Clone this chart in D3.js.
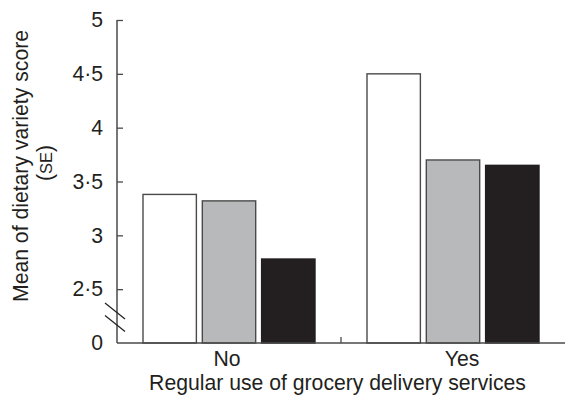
<!DOCTYPE html>
<html>
<head>
<meta charset="utf-8">
<script src="https://cdn.jsdelivr.net/npm/d3@7"></script>
<style>
  html, body { margin: 0; padding: 0; background: #fff; }
  svg { display: block; font-family: "Liberation Sans", Arial, sans-serif; }
</style>
</head>
<body>
<svg id="chart" width="565" height="402"></svg>
<script>
// Mean dietary variety score by regular use of grocery delivery services
const groups = ["No", "Yes"];
const seriesNames = ["s1", "s2", "s3"];
const valuesS1 = [3.38, 4.5];
const valuesS2 = [3.32, 3.7];
const valuesS3 = [2.78, 3.65];
const yTicks = [2.5, 3, 3.5, 4, 4.5, 5];
const yTickLabels = ["2·5", "3", "3·5", "4", "4·5", "5"];
const xTitle = "Regular use of grocery delivery services";
const yTitle = "Mean of dietary variety score";

const fills = ["#ffffff", "#b8b9bb", "#231f20"];
const strokes = ["#4a4a4a", "#4a4a4a", "#231f20"];
const axisColor = "#4a4a4a";
const textColor = "#231f20";
const fontSize = 21.2;

const svg = d3.select("#chart");
const plotLeft = 117, plotRight = 565, plotTop = 20, plotBottom = 343;

// Axis is broken: the baseline stands for 0, the visible range starts at 2·5
const yBase = 2;
const y = d3.scaleLinear().domain([yBase, 5]).range([plotBottom, plotTop]);
const x0 = d3.scaleBand().domain(groups).range([plotLeft, plotRight]).paddingInner(0).paddingOuter(0);
const x1 = d3.scaleBand().domain(seriesNames).range([26, 198]).paddingInner(0.1).paddingOuter(0);

const rows = groups.map((g, i) => ({
  group: g,
  vals: [valuesS1[i], valuesS2[i], valuesS3[i]]
}));

// bars
const gBars = svg.append("g");
rows.forEach(r => {
  gBars.selectAll(null)
    .data(r.vals.map((v, k) => ({ v, k })))
    .enter().append("rect")
    .attr("x", d => x0(r.group) + x1(seriesNames[d.k]))
    .attr("y", d => y(d.v))
    .attr("width", x1.bandwidth())
    .attr("height", d => y(yBase) - y(d.v))
    .attr("fill", d => fills[d.k])
    .attr("stroke", d => strokes[d.k])
    .attr("stroke-width", 1.4);
});

// y axis with inward ticks
const yAxis = d3.axisLeft(y).tickValues(yTicks).tickSize(-6).tickPadding(14)
  .tickFormat((d, i) => yTickLabels[i]);
const gy = svg.append("g").attr("transform", `translate(${plotLeft},0)`).call(yAxis);
gy.select(".domain").remove();
gy.selectAll(".tick line").attr("stroke", axisColor).attr("stroke-width", 1.3);
gy.selectAll(".tick text").attr("fill", textColor).attr("font-size", fontSize)
  .attr("font-family", "Liberation Sans, Arial, sans-serif");

// axis lines
svg.append("line").attr("x1", plotLeft).attr("x2", plotLeft).attr("y1", y(5)).attr("y2", plotBottom)
  .attr("stroke", axisColor).attr("stroke-width", 1.5);
svg.append("line").attr("x1", plotLeft).attr("x2", plotRight).attr("y1", plotBottom).attr("y2", plotBottom)
  .attr("stroke", axisColor).attr("stroke-width", 1.5);
// zero label at the baseline
svg.append("text").attr("x", plotLeft - 14).attr("y", plotBottom).attr("dy", "0.32em")
  .attr("text-anchor", "end").attr("font-size", fontSize).attr("fill", textColor).text("0");

// axis break marks
[0, 12.5].forEach(off => {
  svg.append("line")
    .attr("x1", 105).attr("y1", 303 + off).attr("x2", 125).attr("y2", 319 + off)
    .attr("stroke", textColor).attr("stroke-width", 1.2);
});

// x tick at the group boundary, category labels
const labelShift = { No: -2, Yes: 9 };
const gx = svg.append("g").attr("transform", `translate(0,${plotBottom})`);
gx.append("line").attr("x1", x0("Yes")).attr("x2", x0("Yes")).attr("y1", 0).attr("y2", -6)
  .attr("stroke", axisColor).attr("stroke-width", 1.3);
gx.selectAll("text.cat").data(groups).enter().append("text")
  .attr("class", "cat")
  .attr("x", d => x0(d) + x0.bandwidth() / 2 + labelShift[d])
  .attr("y", 23).attr("text-anchor", "middle")
  .attr("font-size", fontSize).attr("fill", textColor).text(d => d);

// titles
svg.append("text").attr("x", 337.5).attr("y", 389.5).attr("text-anchor", "middle")
  .attr("font-size", fontSize).attr("fill", textColor).text(xTitle);

const yt = svg.append("g").attr("transform", "translate(0,166) rotate(-90)");
yt.append("text").attr("x", 0).attr("y", 27.5).attr("text-anchor", "middle")
  .attr("font-size", fontSize).attr("fill", textColor).text(yTitle);
const se = yt.append("text").attr("x", 3).attr("y", 52).attr("text-anchor", "middle")
  .attr("font-size", fontSize).attr("fill", textColor);
se.append("tspan").text("(");
se.append("tspan").attr("font-size", 16.5).text("SE");
se.append("tspan").text(")");
</script>
</body>
</html>
